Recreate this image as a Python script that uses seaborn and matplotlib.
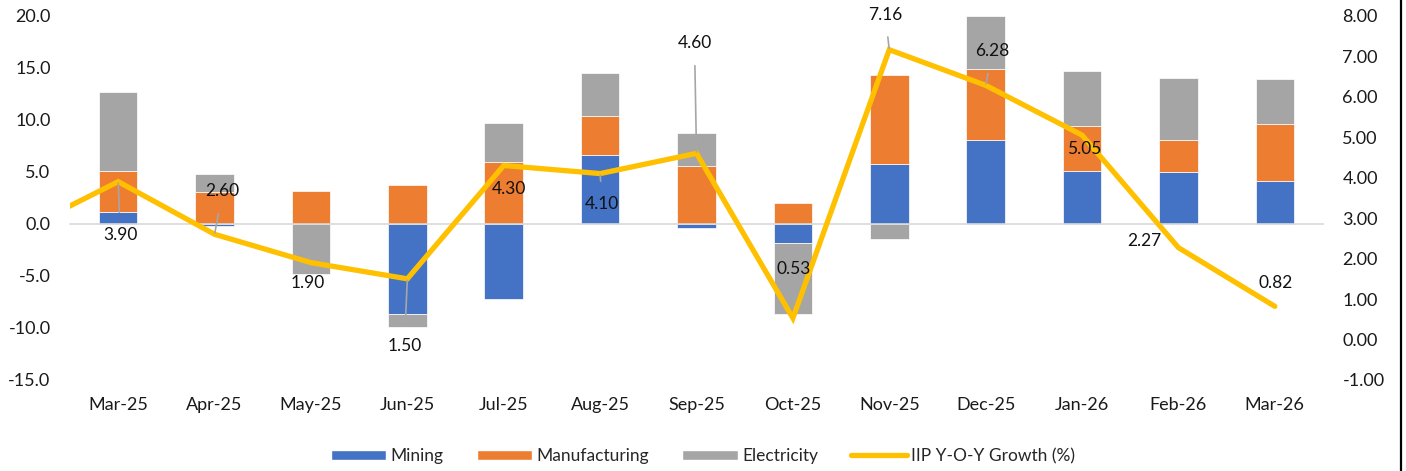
import numpy as np
import pandas as pd
import seaborn as sns
import matplotlib.pyplot as plt
from matplotlib.patches import Patch
from matplotlib.lines import Line2D

months = ['Mar-25', 'Apr-25', 'May-25', 'Jun-25', 'Jul-25', 'Aug-25', 'Sep-25',
          'Oct-25', 'Nov-25', 'Dec-25', 'Jan-26', 'Feb-26', 'Mar-26']
mining = [1.1, -0.2, 0.0, -8.7, -7.2, 6.6, -0.4, -1.8, 5.8, 8.1, 5.1, 5.0, 4.1]
manufacturing = [4.0, 3.1, 3.2, 3.7, 5.9, 3.8, 5.6, 2.0, 8.5, 6.8, 4.3, 3.1, 5.5]
electricity = [7.6, 1.7, -4.8, -1.2, 3.8, 4.1, 3.1, -6.9, -1.5, 5.1, 5.3, 5.9, 4.3]
iip_growth = [3.90, 2.60, 1.90, 1.50, 4.30, 4.10, 4.60, 0.53, 7.16, 6.28, 5.05, 2.27, 0.82]
iip_prev = 2.70  # Feb-25, only the stub at the left edge is visible

series_names = ['Mining', 'Manufacturing', 'Electricity']
colors = {'Mining': '#4472C4', 'Manufacturing': '#ED7D31', 'Electricity': '#A5A5A5'}
line_color = '#FFC000'

# label offsets from the point, in pixels (x right, y down), and leader flags
label_offsets = [(2, 53), (8, -43), (-3, 20), (-3, 67), (5, 24), (2, 30), (-2, -110),
                 (1, -49), (-4, -35), (7, -34), (2, 14), (-34, -7), (1, -23)]
leaders = [True, True, False, True, False, True, True, False, True, True, False, False, False]

sns.set_style('white')
plt.rcParams['font.family'] = ['Lato', 'DejaVu Sans']

df = pd.DataFrame({'month': months, 'Mining': mining,
                   'Manufacturing': manufacturing, 'Electricity': electricity})

fig = plt.figure(figsize=(14.06, 4.71), dpi=100)
ax = fig.add_axes([70 / 1406, 1 - 380 / 471, 1253 / 1406, (380 - 15.7) / 471])

# stack positives upward and negatives downward, in series order
pos_base = np.zeros(len(months))
neg_base = np.zeros(len(months))
for name in series_names:
    vals = df[name].to_numpy()
    bottom = np.where(vals >= 0, pos_base, neg_base)
    sns.barplot(data=df, x='month', y=name, order=months, ax=ax, color=colors[name],
                saturation=1, width=0.4, bottom=bottom, edgecolor='white', linewidth=0.5)
    pos_base = pos_base + np.where(vals >= 0, vals, 0)
    neg_base = neg_base + np.where(vals < 0, vals, 0)

ax.set_ylim(-15, 20)
ax.set_xlim(-0.5, len(months) - 0.5)
ax.set_yticks(np.arange(-15, 21, 5))
ax.set_yticklabels([f'{v:.1f}' for v in np.arange(-15, 21, 5)])
ax.set_xlabel('')
ax.set_ylabel('')
for s in ['top', 'left', 'right']:
    ax.spines[s].set_visible(False)
ax.spines['bottom'].set_position(('data', 0))
ax.spines['bottom'].set_color('#D9D9D9')
ax.spines['bottom'].set_linewidth(1.2)
ax.set_xticks(np.arange(-0.5, len(months), 1))
ax.tick_params(axis='x', which='major', length=5, width=1.2, color='#D9D9D9',
               labelbottom=False, direction='out')
ax.tick_params(axis='y', length=0, pad=14, labelsize=13, labelcolor='#1a1a1a')

# month labels along the bottom of the plot area
sec = ax.secondary_xaxis('bottom')
sec.set_xticks(range(len(months)))
sec.set_xticklabels(months)
sec.tick_params(length=0, pad=12.5, labelsize=13, labelcolor='#1a1a1a')
sec.spines['bottom'].set_visible(False)

ax2 = ax.twinx()
line_x = np.arange(-1, len(months))
line_y = [iip_prev] + iip_growth
sns.lineplot(x=line_x, y=line_y, ax=ax2, color=line_color, linewidth=3.8,
             sort=False, solid_joinstyle='miter')
ax2.set_ylim(-1, 8)
ax2.set_xlim(-0.5, len(months) - 0.5)
ax2.set_yticks(np.arange(-1, 9, 1))
ax2.set_yticklabels([f'{v:.2f}' for v in np.arange(-1, 9, 1)])
ax2.tick_params(axis='y', length=0, pad=14, labelsize=13, labelcolor='#1a1a1a')
for s in ax2.spines.values():
    s.set_visible(False)

for i, v in enumerate(iip_growth):
    dx, dy = label_offsets[i]
    arrow = dict(arrowstyle='-', color='#A6A6A6', lw=1.2, shrinkA=8, shrinkB=1) if leaders[i] else None
    ax2.annotate(f'{v:.2f}', xy=(i, v), xytext=(dx * 0.72, -dy * 0.72),
                 textcoords='offset points', ha='center', va='center',
                 fontsize=12.5, color='#111111', arrowprops=arrow, zorder=5)

handles = [Patch(facecolor=colors[n], label=n) for n in series_names]
handles.append(Line2D([0], [0], color=line_color, lw=3.8, label='IIP Y-O-Y Growth (%)'))
fig.legend(handles=handles, loc='center', bbox_to_anchor=(0.5, 1 - 456 / 471), ncol=4,
           frameon=False, fontsize=12.5, handlelength=3.2, handleheight=0.55,
           handletextpad=0.25, columnspacing=1.9)

fig.add_artist(Line2D([1401 / 1406, 1401 / 1406], [0, 1], color='black', lw=1.6))

fig.savefig('out.png', dpi=100)
